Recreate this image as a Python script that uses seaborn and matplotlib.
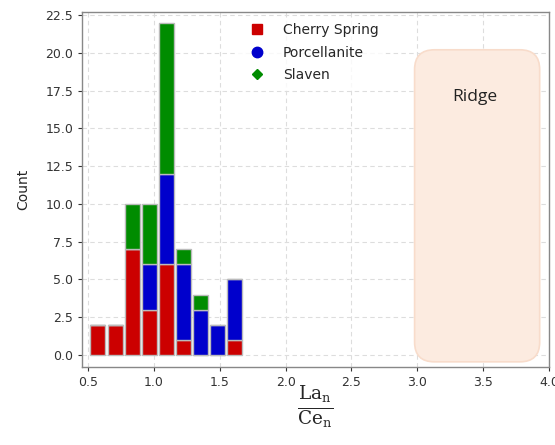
import matplotlib
matplotlib.use("Agg")
import matplotlib.pyplot as plt
import seaborn as sns
import pandas as pd
import numpy as np
from matplotlib.lines import Line2D
from matplotlib.patches import FancyBboxPatch

# ---- data ----
bin_edges = [0.51, 0.64, 0.77, 0.90, 1.03, 1.16, 1.29, 1.42, 1.55, 1.68]
bin_centers = [0.575, 0.705, 0.835, 0.965, 1.095, 1.225, 1.355, 1.485, 1.615]
cherry_spring = [2, 2, 7, 3, 6, 1, 0, 0, 1]
porcellanite = [0, 0, 0, 3, 6, 5, 3, 2, 4]
slaven = [0, 0, 3, 4, 10, 1, 1, 0, 0]
groups = ["Cherry Spring", "Porcellanite", "Slaven"]
colors = ["#cc0000", "#0000cc", "#008c00"]
y_ticks = [0.0, 2.5, 5.0, 7.5, 10.0, 12.5, 15.0, 17.5, 20.0, 22.5]
x_ticks = [0.5, 1.0, 1.5, 2.0, 2.5, 3.0, 3.5, 4.0]

rows = []
for g, vals in zip(groups, [cherry_spring, porcellanite, slaven]):
    for c, v in zip(bin_centers, vals):
        rows.append({"ratio": c, "count": v, "group": g})
df = pd.DataFrame(rows)

sns.set_style("white")
plt.rcParams['font.family'] = ['DejaVu Sans']
plt.rcParams['mathtext.fontset'] = 'dejavuserif'

fig = plt.figure(figsize=(5.55, 4.45), dpi=100)
ax = fig.add_axes([0.148, 0.175, 0.841, 0.798])

# Ridge box
box = FancyBboxPatch((2.98, -0.45), 0.95, 20.65,
                     boxstyle="round,pad=0,rounding_size=0.15",
                     mutation_aspect=8.7,
                     facecolor="#fcebe0", edgecolor="#f8dccb", lw=1.2, zorder=1)
ax.add_patch(box)
ax.text(3.44, 17.1, "Ridge", ha="center", va="center", fontsize=12.5,
        family="Open Sans", color="#222222", zorder=2)

sns.histplot(data=df, x="ratio", weights="count", hue="group",
             hue_order=groups[::-1], palette=dict(zip(groups, colors)),
             bins=bin_edges, multiple="stack", alpha=1, shrink=0.88,
             edgecolor="#bbbbbb", linewidth=1.0, legend=False, ax=ax, zorder=3)

ax.set_xlim(0.455, 4.0)
ax.set_ylim(-0.8, 22.7)
ax.set_xticks(x_ticks)
ax.set_yticks(y_ticks)
ax.set_xticklabels([f"{v:.1f}" for v in x_ticks])
ax.set_yticklabels([f"{v:.1f}" for v in y_ticks])
ax.tick_params(axis="both", labelsize=9, colors="#333333", length=3, direction="out")
ax.tick_params(left=True, bottom=True)
ax.grid(True, linestyle=(0, (4, 3)), color="#dddddd", lw=0.8, zorder=0)
ax.set_axisbelow(True)
for s in ax.spines.values():
    s.set_color("#888888")
    s.set_linewidth(1.0)

ax.set_ylabel("Count", fontsize=10, labelpad=11)
ax.set_xlabel(r"$\frac{\mathrm{La_n}}{\mathrm{Ce_n}}$", fontsize=19, labelpad=-3)

handles = [
    Line2D([], [], marker="s", linestyle="none", color=colors[0], markersize=7),
    Line2D([], [], marker="o", linestyle="none", color=colors[1], markersize=7.5),
    Line2D([], [], marker="D", linestyle="none", color=colors[2], markersize=5.5),
]
leg = ax.legend(handles, groups, loc="upper left", bbox_to_anchor=(0.32, 1.0),
                frameon=True, fontsize=10, handletextpad=0.9, labelspacing=0.62,
                borderpad=0.3, fancybox=False)
leg.get_frame().set_facecolor("white")
leg.get_frame().set_edgecolor("white")
leg.set_zorder(5)

fig.savefig("out.png", dpi=100)
